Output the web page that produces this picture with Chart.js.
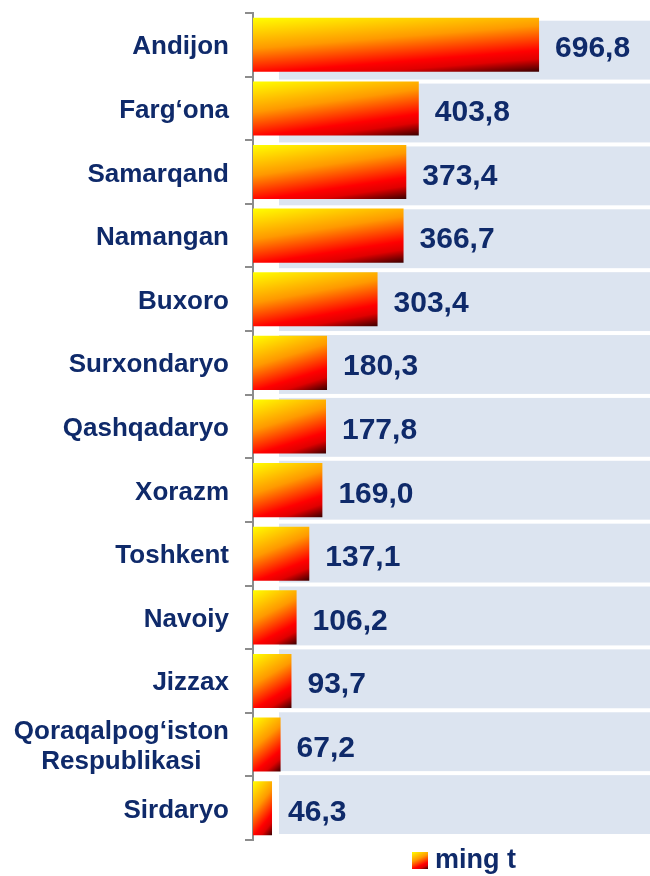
<!DOCTYPE html>
<html>
<head>
<meta charset="utf-8">
<script src="https://cdn.jsdelivr.net/npm/chart.js@4"></script>
<style>
  html, body { margin: 0; padding: 0; background: #ffffff; }
  #wrap { width: 650px; height: 876px; position: relative; }
</style>
</head>
<body>
<div id="wrap"><canvas id="c"></canvas></div>
<script>
const categories = ["Andijon", "Farg‘ona", "Samarqand", "Namangan", "Buxoro", "Surxondaryo", "Qashqadaryo", "Xorazm", "Toshkent", "Navoiy", "Jizzax", ["Qoraqalpog‘iston", "Respublikasi"], "Sirdaryo"];
const values = [696.8, 403.8, 373.4, 366.7, 303.4, 180.3, 177.8, 169.0, 137.1, 106.2, 93.7, 67.2, 46.3];
const seriesName = "ming t";

const TEXT = '#0f2a6a';
const FONT = '"Liberation Sans", Arial, sans-serif';

function makeGrad(ctx, x0, y0, w, h) {
  const a = 0.3, b = 0.7;
  const gx = a / w, gy = b / h, n = gx * gx + gy * gy;
  const g = ctx.createLinearGradient(x0, y0, x0 + gx / n, y0 + gy / n);
  g.addColorStop(0, '#ffff00');
  g.addColorStop(0.4, '#ff9900');
  g.addColorStop(0.72, '#ff0000');
  g.addColorStop(0.83, '#e00000');
  g.addColorStop(1, '#3a0000');
  return g;
}

const panelsPlugin = {
  id: 'panels',
  beforeDatasetsDraw(chart) {
    const { ctx, chartArea } = chart;
    const n = categories.length;
    const top = chartArea.top + 7.7, bottom = chartArea.bottom - 6, gap = 4;
    const pitch = (bottom - top + gap) / n;
    ctx.save();
    ctx.fillStyle = '#dce4f0';
    for (let i = 0; i < n; i++) {
      ctx.fillRect(chartArea.left + 26, top + i * pitch, chart.width - chartArea.left - 26, pitch - gap);
    }
    ctx.restore();
  }
};

const textPlugin = {
  id: 'texts',
  afterDraw(chart) {
    const { ctx, chartArea } = chart;
    const xs = chart.scales.x, ys = chart.scales.y;
    ctx.save();
    ctx.fillStyle = TEXT;
    // category labels
    ctx.font = 'bold 26px ' + FONT;
    ctx.textBaseline = 'alphabetic';
    ctx.textAlign = 'center';
    const right = chartArea.left - 24;
    categories.forEach((lab, i) => {
      const lines = Array.isArray(lab) ? lab : [lab];
      const maxW = Math.max(...lines.map(l => ctx.measureText(l).width));
      const cx = right - maxW / 2;
      const yc = ys.getPixelForValue(i);
      const lh = 30;
      const first = yc + 9.5 - (lines.length - 1) * lh / 2;
      lines.forEach((l, k) => ctx.fillText(l, cx, first + k * lh));
    });
    // value labels
    ctx.font = 'bold 30px ' + FONT;
    ctx.textAlign = 'left';
    values.forEach((v, i) => {
      const x = xs.getPixelForValue(v) + 16;
      const yc = ys.getPixelForValue(i);
      ctx.fillText(v.toFixed(1).replace('.', ','), x, yc + 12.5);
    });
    // legend
    const bx = 412, by = 852, bw = 16, bh = 17;
    ctx.fillStyle = makeGrad(ctx, bx, by, bw, bh);
    ctx.fillRect(bx, by, bw, bh);
    ctx.fillStyle = TEXT;
    ctx.font = 'bold 27px ' + FONT;
    ctx.fillText(seriesName, 435, 868);
    ctx.restore();
  }
};

new Chart(document.getElementById('c'), {
  type: 'bar',
  data: {
    labels: categories,
    datasets: [{
      label: seriesName,
      data: values,
      backgroundColor: (c) => {
        const chart = c.chart;
        const xs = chart.scales.x, ys = chart.scales.y;
        if (c.type !== 'data' || !xs || !ys || !chart.chartArea) return '#ff6600';
        const x0 = xs.getPixelForValue(0), x1 = xs.getPixelForValue(c.raw);
        const h = (ys.height / categories.length) * 0.85;
        const y0 = ys.getPixelForValue(c.dataIndex) - h / 2;
        return makeGrad(chart.ctx, x0, y0, Math.max(1, x1 - x0), h);
      },
      borderWidth: 0,
      barPercentage: 0.85,
      categoryPercentage: 1.0
    }]
  },
  options: {
    indexAxis: 'y',
    responsive: true,
    maintainAspectRatio: false,
    animation: false,
    layout: { padding: { top: 13, bottom: 36, left: 0, right: 0 } },
    plugins: {
      legend: { display: false },
      tooltip: { enabled: false }
    },
    scales: {
      x: {
        display: false,
        min: 0,
        max: 967
      },
      y: {
        offset: true,
        grid: {
          display: true,
          offset: true,
          drawOnChartArea: false,
          drawTicks: true,
          tickLength: 8,
          color: '#8c8c8c',
          lineWidth: 2
        },
        border: { display: true, color: '#8c8c8c', width: 2 },
        ticks: { display: false },
        afterFit(scale) { scale.width = 253; }
      }
    }
  },
  plugins: [panelsPlugin, textPlugin]
});
</script>
</body>
</html>
